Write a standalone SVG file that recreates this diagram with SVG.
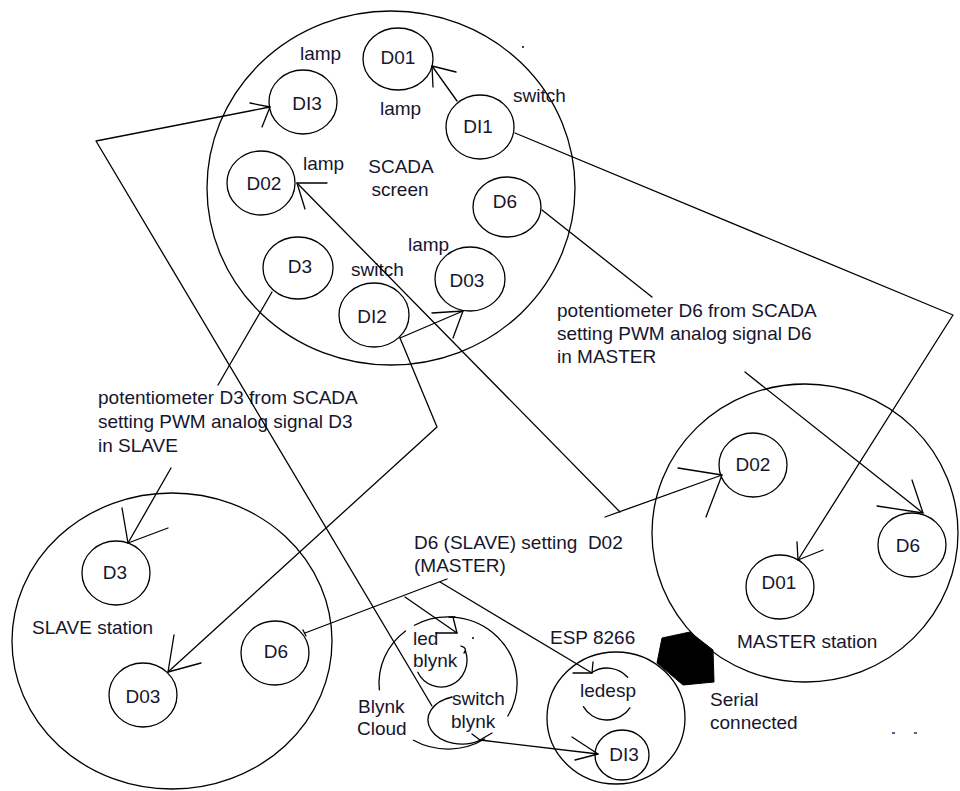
<svg xmlns="http://www.w3.org/2000/svg" width="960" height="791" viewBox="0 0 960 791">
  <style>
    .ln { fill: none; stroke: #000; stroke-width: 1.3; stroke-linecap: round; stroke-linejoin: round; }
    .t { font-family: "Liberation Sans", Arial, sans-serif; font-size: 19px; fill: #16162e; white-space: pre; }
    .c { text-anchor: middle; }
  </style>
  <rect width="960" height="791" fill="#fff"/>

  <!-- SCADA screen -->
  <g id="scada">
    <ellipse class="ln" cx="391" cy="188" rx="184" ry="177"/>
    <text class="t c" x="401" y="173">SCADA</text>
    <text class="t c" x="400" y="196">screen</text>
    <text class="t" x="300" y="60">lamp</text>
    <text class="t" x="380" y="115">lamp</text>
    <text class="t" x="513" y="102">switch</text>
    <text class="t" x="303" y="170">lamp</text>
    <text class="t" x="408" y="251">lamp</text>
    <text class="t" x="351" y="276">switch</text>
    <circle cx="523" cy="47" r="1" fill="#000"/>
  </g>
  <g id="scada-d01"><ellipse class="ln" cx="398" cy="59" rx="35" ry="31"/><text class="t c" x="398" y="64">D01</text></g>
  <g id="scada-di3"><ellipse class="ln" cx="303" cy="102" rx="34" ry="32"/><text class="t c" x="307" y="110">DI3</text></g>
  <g id="scada-di1"><ellipse class="ln" cx="480" cy="127" rx="34" ry="32"/><text class="t c" x="478" y="133">DI1</text></g>
  <g id="scada-d02"><ellipse class="ln" cx="261" cy="183" rx="34" ry="32"/><text class="t c" x="264" y="190">D02</text></g>
  <g id="scada-d6"><ellipse class="ln" cx="507" cy="207" rx="34" ry="30"/><text class="t c" x="505" y="208">D6</text></g>
  <g id="scada-d3"><ellipse class="ln" cx="298" cy="268" rx="35" ry="31"/><text class="t c" x="300" y="273">D3</text></g>
  <g id="scada-d03"><ellipse class="ln" cx="470" cy="279" rx="35" ry="32"/><text class="t c" x="467" y="287">D03</text></g>
  <g id="scada-di2"><ellipse class="ln" cx="374" cy="315" rx="35" ry="32"/><text class="t c" x="372" y="323">DI2</text></g>

  <!-- SLAVE station -->
  <g id="slave">
    <ellipse class="ln" cx="172" cy="641" rx="160" ry="148"/>
    <text class="t" x="32" y="634">SLAVE station</text>
  </g>
  <g id="slave-d3"><ellipse class="ln" cx="116" cy="573" rx="34" ry="32"/><text class="t c" x="115" y="579">D3</text></g>
  <g id="slave-d03"><ellipse class="ln" cx="143" cy="695" rx="34" ry="32"/><text class="t c" x="143" y="703">D03</text></g>
  <g id="slave-d6"><ellipse class="ln" cx="275" cy="653" rx="34" ry="32"/><text class="t c" x="276" y="658">D6</text></g>

  <!-- MASTER station -->
  <g id="master">
    <ellipse class="ln" cx="805" cy="533" rx="153" ry="149"/>
    <text class="t" x="737" y="648">MASTER station</text>
  </g>
  <g id="master-d02"><ellipse class="ln" cx="753" cy="465" rx="34" ry="32"/><text class="t c" x="753" y="471">D02</text></g>
  <g id="master-d6"><ellipse class="ln" cx="912" cy="545" rx="34" ry="32"/><text class="t c" x="908" y="552">D6</text></g>
  <g id="master-d01"><ellipse class="ln" cx="780" cy="587" rx="34" ry="32"/><text class="t c" x="779" y="589">D01</text></g>

  <!-- Blynk Cloud -->
  <g id="blynk-cloud">
    <path class="ln" d="M379.4,689.9 A69,66 0 0 1 405.5,631"/>
    <path class="ln" d="M414.5,625.3 A69,66 0 0 1 507.8,716"/>
    <path class="ln" d="M484.6,739 A69,66 0 0 1 413.5,740.2"/>
    <text class="t" x="358" y="713">Blynk</text>
    <text class="t" x="357" y="735">Cloud</text>
    <circle cx="473" cy="638" r="1" fill="#000"/>
  </g>
  <g id="led-blynk">
    <path class="ln" d="M465.4,650.8 A26,27 0 0 1 417.8,672.3"/>
    <path class="ln" d="M461,646 Q468,648 464,653"/>
    <text class="t" x="413" y="645">led</text>
    <text class="t" x="413" y="667">blynk</text>
  </g>
  <g id="switch-blynk">
    <path class="ln" d="M480.5,740.1 A34,24 0 1 1 452.1,697"/>
    <text class="t" x="452" y="705">switch</text>
    <text class="t" x="451" y="728">blynk</text>
  </g>

  <!-- ESP 8266 -->
  <g id="esp">
    <ellipse class="ln" cx="616" cy="718" rx="69" ry="66"/>
    <text class="t" x="550" y="644">ESP 8266</text>
  </g>
  <g id="ledesp">
    <path class="ln" d="M592.3,672.2 A27,26 0 0 1 627.7,677.3"/>
    <path class="ln" d="M629.9,707.8 A27,26 0 0 1 583.4,706.6"/>
    <text class="t" x="580" y="697">ledesp</text>
  </g>
  <g id="esp-di3"><ellipse class="ln" cx="622" cy="755" rx="27" ry="25"/><text class="t c" x="624" y="761">DI3</text></g>

  <!-- serial link -->
  <g id="serial">
    <polygon points="662,638 690,632 713,650 714,682 683,685 657,663" fill="#000" stroke="#000" stroke-width="1"/>
    <text class="t" x="710" y="706">Serial</text>
    <text class="t" x="710" y="729">connected</text>
  </g>

  <!-- notes -->
  <g id="notes">
    <text class="t" x="98" y="404">potentiometer D3 from SCADA</text>
    <text class="t" x="98" y="428">setting PWM analog signal D3</text>
    <text class="t" x="98" y="452">in SLAVE</text>
    <text class="t" x="557" y="317">potentiometer D6 from SCADA</text>
    <text class="t" x="557" y="340">setting PWM analog signal D6</text>
    <text class="t" x="557" y="363">in MASTER</text>
    <text class="t" x="414" y="549">D6 (SLAVE) setting  D02</text>
    <text class="t" x="414" y="572">(MASTER)</text>
    <rect x="892" y="732" width="3" height="2" fill="#6a5a8a"/>
    <rect x="914" y="732" width="3" height="2" fill="#6a5a8a"/>
  </g>

  <!-- connectors -->
  <g id="connectors">
    <!-- switch blynk -> SCADA DI3 -->
    <polyline class="ln" points="432,706 96,141 270,107"/>
    <path class="ln" d="M250,103 L270,107 L262,127"/>
    <!-- DI1 -> SCADA D01 -->
    <line class="ln" x1="457" y1="101" x2="432" y2="66"/>
    <path class="ln" d="M456,72 L432,66 L433,87"/>
    <!-- DI1 -> MASTER D01 -->
    <polyline class="ln" points="515,133 953,315 798,560"/>
    <path class="ln" d="M797,542 L798,560 L823,550"/>
    <!-- SCADA D6 -> MASTER D6 -->
    <line class="ln" x1="542" y1="210" x2="652" y2="297"/>
    <line class="ln" x1="745" y1="372" x2="923" y2="513"/>
    <path class="ln" d="M912,480 L923,513 L877,506"/>
    <!-- SCADA D02 <-> MASTER D02 -->
    <line class="ln" x1="297" y1="183" x2="620" y2="512"/>
    <path class="ln" d="M327,183 L297,183 L305,209"/>
    <line class="ln" x1="605" y1="517" x2="722" y2="475"/>
    <path class="ln" d="M678,468 L722,475 L706,517"/>
    <!-- SCADA D3 -> SLAVE D3 -->
    <line class="ln" x1="272" y1="292" x2="218" y2="385"/>
    <line class="ln" x1="171" y1="468" x2="128" y2="543"/>
    <path class="ln" d="M122,508 L128,543 L168,528"/>
    <!-- DI2 -> SCADA D03 -->
    <line class="ln" x1="400" y1="338" x2="463" y2="311"/>
    <path class="ln" d="M432,313 L463,311 L453,338"/>
    <!-- DI2 -> SLAVE D03 -->
    <polyline class="ln" points="400,338 437,427 168,672"/>
    <path class="ln" d="M174,635 L168,672 L201,663"/>
    <!-- SLAVE D6 -> led blynk / ledesp -->
    <line class="ln" x1="305" y1="633" x2="447" y2="579"/>
    <line class="ln" x1="303" y1="630" x2="306" y2="636"/>
    <line class="ln" x1="405" y1="597" x2="457" y2="633"/>
    <path class="ln" d="M436,633 L457,633 L453,617"/>
    <line class="ln" x1="449" y1="617" x2="455" y2="617"/>
    <line class="ln" x1="440" y1="582" x2="592" y2="673"/>
    <path class="ln" d="M573,673 L592,673 L593,662"/>
    <!-- switch blynk -> ESP DI3 -->
    <line class="ln" x1="480" y1="740" x2="598" y2="754"/>
    <path class="ln" d="M472,734 L480,740 L492,733"/>
    <path class="ln" d="M572,737 L598,754 L575,760"/>
  </g>
</svg>
